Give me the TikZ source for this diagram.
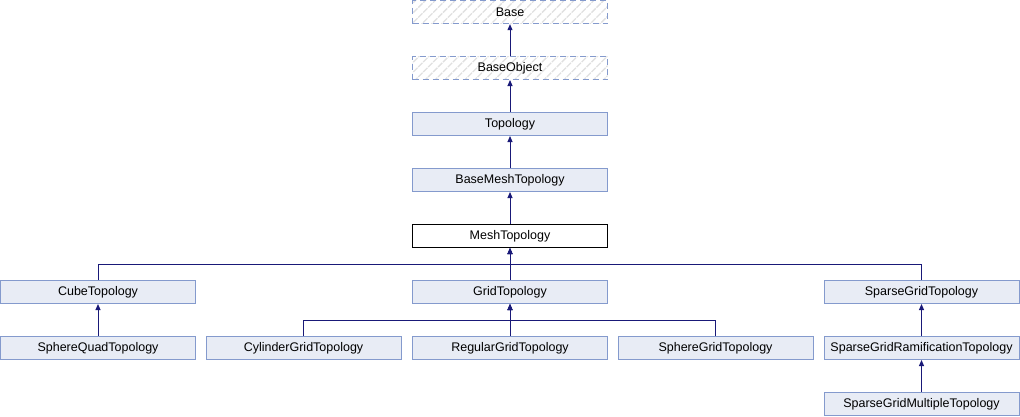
\documentclass[tikz,border=0pt]{standalone}
\usepackage{fontspec}
\setmainfont{Liberation Sans}
\usetikzlibrary{arrows.meta, patterns.meta}
\definecolor{boxfill}{RGB}{232,236,245}
\definecolor{boxline}{RGB}{132,154,205}
\definecolor{edgeblue}{RGB}{25,25,120}
\begin{document}
\begin{tikzpicture}[x=1pt, y=-1pt, font=\fontsize{12.5}{14}\selectfont,
    cls/.style={draw=boxline, fill=boxfill, line width=1pt, minimum width=195pt, minimum height=23pt, inner sep=0pt},
    ext/.style={draw=boxline, dashed, dash pattern=on 6pt off 4pt, line width=1pt, minimum width=195pt, minimum height=23pt, inner sep=0pt,
        pattern={Lines[angle=45, distance=7pt, line width=1.3pt]}, pattern color=black!12},
    cur/.style={draw=black, fill=white, line width=1pt, minimum width=195pt, minimum height=23pt, inner sep=0pt},
    inh/.style={draw=edgeblue, line width=1pt, -{Triangle[length=6pt, width=5pt]}}]
    \useasboundingbox (0,0) rectangle (1020,416);

    \node[ext] (Base) at (510,12) {Base};
    \node[ext] (BaseObject) at (510,68) {BaseObject};
    \node[cls] (Topology) at (510,124) {Topology};
    \node[cls] (BaseMeshTopology) at (510,180) {BaseMeshTopology};
    \node[cur] (MeshTopology) at (510,236) {MeshTopology};
    \node[cls] (CubeTopology) at (98,292) {CubeTopology};
    \node[cls] (GridTopology) at (510,292) {GridTopology};
    \node[cls] (SparseGridTopology) at (921.5,292) {SparseGridTopology};
    \node[cls] (SphereQuadTopology) at (98,348) {SphereQuadTopology};
    \node[cls] (CylinderGridTopology) at (303.5,348) {CylinderGridTopology};
    \node[cls] (RegularGridTopology) at (510,348) {RegularGridTopology};
    \node[cls] (SphereGridTopology) at (715.5,348) {SphereGridTopology};
    \node[cls] (SparseGridRamificationTopology) at (921.5,348) {SparseGridRamificationTopology};
    \node[cls] (SparseGridMultipleTopology) at (921.5,404) {SparseGridMultipleTopology};

    \coordinate (meshbar) at (510,264);
    \coordinate (gridbar) at (510,320);

    \draw[inh] (BaseObject) -- (Base);
    \draw[inh] (Topology) -- (BaseObject);
    \draw[inh] (BaseMeshTopology) -- (Topology);
    \draw[inh] (MeshTopology) -- (BaseMeshTopology);
    \draw[inh] (CubeTopology.north) |- (meshbar) -- (MeshTopology.south);
    \draw[inh] (GridTopology.north) -- (MeshTopology.south);
    \draw[inh] (SparseGridTopology.north) |- (meshbar) -- (MeshTopology.south);
    \draw[inh] (SphereQuadTopology) -- (CubeTopology);
    \draw[inh] (CylinderGridTopology.north) |- (gridbar) -- (GridTopology.south);
    \draw[inh] (RegularGridTopology.north) -- (GridTopology.south);
    \draw[inh] (SphereGridTopology.north) |- (gridbar) -- (GridTopology.south);
    \draw[inh] (SparseGridRamificationTopology) -- (SparseGridTopology);
    \draw[inh] (SparseGridMultipleTopology) -- (SparseGridRamificationTopology);
\end{tikzpicture}
\end{document}
